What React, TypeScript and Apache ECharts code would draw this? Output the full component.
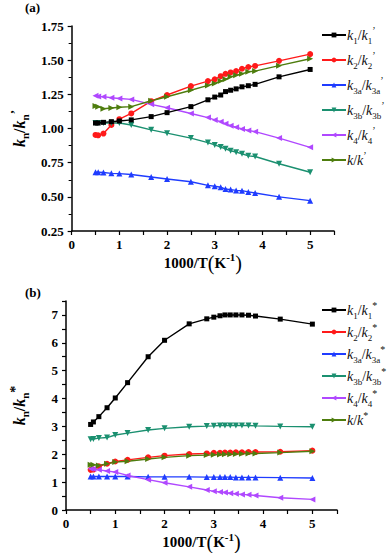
import React, { useEffect, useRef } from "react";
import * as echarts from "echarts";

const SERIF = '"Liberation Serif", "Times New Roman", serif';

// 1000/T values (K^-1)
const xs = [0.5, 0.556, 0.667, 0.833, 1.0, 1.25, 1.667, 2.0, 2.5, 2.857, 3.0, 3.125, 3.226, 3.333, 3.448, 3.571, 3.704, 3.846, 4.348, 5.0];

// Panel (a): k_n / k_n'
const a_k1 = [1.04, 1.04, 1.045, 1.05, 1.055, 1.063, 1.087, 1.116, 1.16, 1.21, 1.23, 1.245, 1.27, 1.28, 1.29, 1.305, 1.313, 1.323, 1.378, 1.432];
const a_k2 = [0.953, 0.95, 0.963, 1.026, 1.068, 1.11, 1.2, 1.245, 1.31, 1.347, 1.36, 1.383, 1.4, 1.41, 1.42, 1.437, 1.45, 1.458, 1.495, 1.544];
const a_k3a = [0.68, 0.68, 0.678, 0.672, 0.67, 0.663, 0.645, 0.63, 0.61, 0.584, 0.577, 0.57, 0.557, 0.553, 0.547, 0.545, 0.536, 0.528, 0.5, 0.472];
const a_k3b = [1.04, 1.04, 1.04, 1.04, 1.04, 1.026, 0.99, 0.966, 0.93, 0.897, 0.88, 0.864, 0.851, 0.837, 0.827, 0.815, 0.8, 0.795, 0.742, 0.68];
const a_k4 = [1.24, 1.235, 1.233, 1.225, 1.22, 1.213, 1.177, 1.152, 1.11, 1.08, 1.063, 1.05, 1.034, 1.02, 1.01, 0.997, 0.985, 0.977, 0.93, 0.862];
const a_k = [1.165, 1.16, 1.145, 1.15, 1.155, 1.16, 1.203, 1.232, 1.28, 1.315, 1.33, 1.347, 1.36, 1.378, 1.39, 1.4, 1.415, 1.42, 1.46, 1.51];

// Panel (b): k_n / k_n*
const b_k1 = [3.07, 3.16, 3.35, 3.67, 4.02, 4.57, 5.5, 6.09, 6.68, 6.86, 6.92, 6.97, 7.0, 7.0, 7.0, 7.0, 6.99, 6.96, 6.85, 6.67];
const b_k2 = [1.44, 1.45, 1.57, 1.66, 1.74, 1.8, 1.89, 1.95, 2.01, 2.03, 2.05, 2.05, 2.06, 2.06, 2.07, 2.07, 2.08, 2.08, 2.09, 2.13];
const b_k3a = [1.2, 1.2, 1.2, 1.2, 1.2, 1.2, 1.19, 1.19, 1.19, 1.18, 1.18, 1.18, 1.18, 1.18, 1.17, 1.17, 1.17, 1.17, 1.16, 1.15];
const b_k3b = [2.54, 2.55, 2.58, 2.6, 2.69, 2.76, 2.87, 2.93, 2.99, 3.01, 3.02, 3.03, 3.03, 3.03, 3.03, 3.03, 3.03, 3.02, 3.0, 2.99];
const b_k4 = [1.48, 1.47, 1.44, 1.4, 1.36, 1.24, 1.09, 0.98, 0.83, 0.72, 0.67, 0.65, 0.63, 0.6, 0.58, 0.56, 0.545, 0.52, 0.44, 0.38];
const b_k = [1.62, 1.62, 1.6, 1.66, 1.72, 1.75, 1.83, 1.89, 1.95, 1.97, 1.98, 1.99, 2.0, 2.0, 2.01, 2.02, 2.03, 2.03, 2.06, 2.11];

const namesA = ["k1/k1'", "k2/k2'", "k3a/k3a'", "k3b/k3b'", "k4/k4'", "k/k'"];
const namesB = ["k1/k1*", "k2/k2*", "k3a/k3a*", "k3b/k3b*", "k4/k4*", "k/k*"];

const legendRich: Record<string, string> = {
  "k1/k1'": "{i|k}{sub|1}{n|/}{i|k}{sub|1}{sup|’}",
  "k2/k2'": "{i|k}{sub|2}{n|/}{i|k}{sub|2}{sup|’}",
  "k3a/k3a'": "{i|k}{sub|3a}{n|/}{i|k}{sub|3a}{sup|’}",
  "k3b/k3b'": "{i|k}{sub|3b}{n|/}{i|k}{sub|3b}{sup|’}",
  "k4/k4'": "{i|k}{sub|4}{n|/}{i|k}{sub|4}{sup|’}",
  "k/k'": "{i|k}{n|/}{i|k}{sup|’}",
  "k1/k1*": "{i|k}{sub|1}{n|/}{i|k}{sub|1}{sup|*}",
  "k2/k2*": "{i|k}{sub|2}{n|/}{i|k}{sub|2}{sup|*}",
  "k3a/k3a*": "{i|k}{sub|3a}{n|/}{i|k}{sub|3a}{sup|*}",
  "k3b/k3b*": "{i|k}{sub|3b}{n|/}{i|k}{sub|3b}{sup|*}",
  "k4/k4*": "{i|k}{sub|4}{n|/}{i|k}{sub|4}{sup|*}",
  "k/k*": "{i|k}{n|/}{i|k}{sup|*}",
};

const colors = ["#000000", "#ff1a1a", "#1f3cff", "#1b9070", "#b048ff", "#4e7d0e"];
const symbols = ["rect", "circle", "triangle", "triangle", "triangle", "triangle"];
const rotates = [0, 0, 0, 180, 90, -90];

function App() {
  const ref = useRef<HTMLDivElement>(null);
  useEffect(() => {
    if (!ref.current) return;
    const chart = echarts.init(ref.current, null, { renderer: "svg" });
    const dataA = [a_k1, a_k2, a_k3a, a_k3b, a_k4, a_k];
    const dataB = [b_k1, b_k2, b_k3a, b_k3b, b_k4, b_k];
    const mk = (name: string, vals: number[], idx: number, ax: number) => ({
      type: "line",
      name,
      xAxisIndex: ax,
      yAxisIndex: ax,
      data: xs.map((x, i) => [x, vals[i]]),
      symbol: symbols[idx],
      symbolSize: idx === 0 ? 5 : 6,
      symbolRotate: rotates[idx],
      showAllSymbol: true,
      lineStyle: { color: colors[idx], width: 1.4 },
      itemStyle: { color: colors[idx] },
      z: idx === 0 ? 3 : 2,
    });
    const series: any[] = [];
    namesA.forEach((n, i) => series.push(mk(n, dataA[i], i, 0)));
    namesB.forEach((n, i) => series.push(mk(n, dataB[i], i, 1)));

    const rich = {
      i: { fontFamily: SERIF, fontStyle: "italic", fontSize: 14, color: "#111", lineHeight: 20 },
      n: { fontFamily: SERIF, fontSize: 14, color: "#111", lineHeight: 20 },
      sub: { fontFamily: SERIF, fontSize: 9, color: "#111", lineHeight: 11, verticalAlign: "bottom" },
      sup: { fontFamily: SERIF, fontSize: 10, color: "#111", lineHeight: 12, verticalAlign: "top" },
    };
    const legendBase = {
      orient: "vertical",
      left: 321,
      padding: 0,
      itemWidth: 24,
      itemHeight: 6,
      formatter: (name: string) => legendRich[name] || name,
      textStyle: { rich, padding: [0, 0, 0, -4] },
    };

    const tickLabel = {
      fontFamily: SERIF,
      fontWeight: "bold",
      fontSize: 13,
      color: "#000",
    };
    const axisLine = { show: true, lineStyle: { color: "#000", width: 1.5 } };
    const nameRichY = (mark: string) => ({
      fontFamily: SERIF,
      rich: {
        k: { fontFamily: SERIF, fontStyle: "italic", fontWeight: "bold", fontSize: 16, color: "#000", lineHeight: 22 },
        n: { fontFamily: SERIF, fontWeight: "bold", fontSize: 16, color: "#000", lineHeight: 22 },
        s: { fontFamily: SERIF, fontWeight: "bold", fontSize: 11, color: "#000", lineHeight: 12, verticalAlign: "bottom" },
        p: { fontFamily: SERIF, fontWeight: "bold", fontSize: mark === "*" ? 14 : 13, color: "#000", lineHeight: 14, verticalAlign: "top" },
      },
    });
    const nameRichX = {
      rich: {
        b: { fontFamily: SERIF, fontWeight: "bold", fontSize: 15, color: "#000", lineHeight: 22 },
        p: { fontFamily: SERIF, fontSize: 20, color: "#000", lineHeight: 22 },
        sup: { fontFamily: SERIF, fontWeight: "bold", fontSize: 11, color: "#000", lineHeight: 12, verticalAlign: "top" },
      },
    };
    const xAxisCommon = {
      type: "value",
      min: 0,
      max: 5.5,
      interval: 0.5,
      nameLocation: "middle",
      name: "{b|1000/T}{p|(}{b|K}{sup|-1}{p|)}",
      nameTextStyle: nameRichX,
      axisLine,
      axisTick: { show: true, length: 4, lineStyle: { color: "#000", width: 1.2 } },
      axisLabel: {
        ...tickLabel,
        margin: 7,
        formatter: (v: number) => (Math.abs(v - Math.round(v)) < 1e-6 && v <= 5 ? String(Math.round(v)) : ""),
      },
      splitLine: { show: false },
    };

    chart.setOption({
      animation: false,
      backgroundColor: "#ffffff",
      grid: [
        { left: 55, top: 26, width: 279, height: 205 },
        { left: 49, top: 301, width: 288, height: 211 },
      ],
      xAxis: [
        { ...xAxisCommon, gridIndex: 0, nameGap: 17 },
        { ...xAxisCommon, gridIndex: 1, nameGap: 21 },
      ],
      yAxis: [
        {
          type: "value",
          gridIndex: 0,
          min: 0.25,
          max: 1.75,
          interval: 0.25,
          name: "{k|k}{s|n}{n|/}{k|k}{s|n}{p|’}",
          nameLocation: "middle",
          nameRotate: 90,
          nameGap: 41,
          nameTextStyle: nameRichY("'"),
          axisLine,
          axisTick: { show: true, length: 4, lineStyle: { color: "#000", width: 1.2 } },
          minorTick: { show: true, splitNumber: 2, length: 3, lineStyle: { color: "#000", width: 1 } },
          axisLabel: { ...tickLabel, margin: 8, formatter: (v: number) => v.toFixed(2) },
          splitLine: { show: false },
        },
        {
          type: "value",
          gridIndex: 1,
          min: 0,
          max: 7.5,
          interval: 0.5,
          name: "{k|k}{s|n}{n|/}{k|k}{s|n}{p|*}",
          nameLocation: "middle",
          nameRotate: 90,
          nameGap: 36,
          nameTextStyle: nameRichY("*"),
          axisLine,
          axisTick: { show: true, length: 4, lineStyle: { color: "#000", width: 1.2 } },
          axisLabel: {
            ...tickLabel,
            margin: 8,
            formatter: (v: number) => (Math.abs(v - Math.round(v)) < 1e-6 ? String(Math.round(v)) : ""),
          },
          splitLine: { show: false },
        },
      ],
      legend: [
        { ...legendBase, top: 25, itemGap: 5, data: namesA },
        { ...legendBase, top: 300, itemGap: 2, data: namesB },
      ],
      graphic: [
        { type: "text", left: 25, top: 1, style: { text: "(a)", fontFamily: SERIF, fontWeight: "bold", fontSize: 13, fill: "#000" } },
        { type: "text", left: 25, top: 286, style: { text: "(b)", fontFamily: SERIF, fontWeight: "bold", fontSize: 13, fill: "#000" } },
      ],
      series,
    });
    return () => chart.dispose();
  }, []);
  return (
    <div
      ref={ref}
      style={{ position: "absolute", left: 0, top: 0, width: 392, height: 553, background: "#fff" }}
    />
  );
}

export default App;
